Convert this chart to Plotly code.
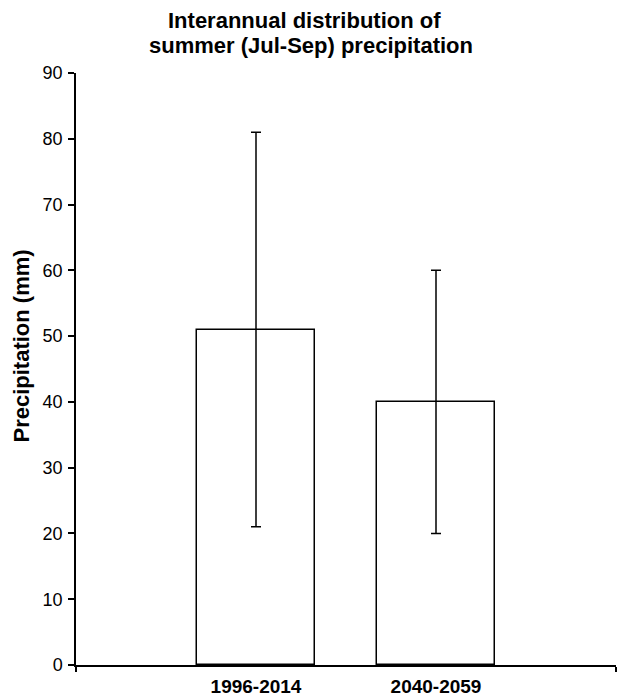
import plotly.graph_objects as go

categories = ["1996-2014", "2040-2059"]
mean_precip = [51, 40]
error_precip = [30, 20]
y_ticks = [0, 10, 20, 30, 40, 50, 60, 70, 80, 90]
title_lines = ["Interannual distribution of", "summer (Jul-Sep) precipitation"]
y_title = "Precipitation (mm)"

x_pos = list(range(len(categories)))

fig = go.Figure()
fig.add_trace(go.Bar(
    x=x_pos,
    y=mean_precip,
    width=0.655,
    marker=dict(color="white", line=dict(color="black", width=1.5)),
    error_y=dict(type="data", array=error_precip, visible=True,
                 color="black", thickness=1.5, width=5),
    showlegend=False,
))

fig.update_layout(
    width=617, height=696,
    margin=dict(l=76, r=1, t=73, b=31, autoexpand=False),
    paper_bgcolor="white", plot_bgcolor="white",
    font=dict(family="Liberation Sans, Arial, sans-serif", color="black"),
    bargap=0,
)

for line, xpos, ypos in zip(title_lines, [0.424, 0.436], [1.088, 1.047]):
    fig.add_annotation(
        text="<b>%s</b>" % line, xref="paper", yref="paper",
        x=xpos, y=ypos, xanchor="center", yanchor="middle",
        showarrow=False, font=dict(size=22, color="black"),
    )

fig.add_annotation(
    text="<b>%s</b>" % y_title, xref="paper", yref="paper",
    x=-0.1, y=0.538, xanchor="center", yanchor="middle", textangle=-90,
    showarrow=False, font=dict(size=22, color="black"),
)

fig.update_xaxes(
    range=[-1, 2],
    tickvals=x_pos,
    ticktext=["<b>%s</b>" % c for c in categories],
    tickfont=dict(size=19),
    ticks="",
    ticklabelstandoff=3,
    automargin=False,
    showline=True, linecolor="black", linewidth=1.5,
    showgrid=False, zeroline=False,
    minor=dict(tickvals=[-1, 2], ticks="outside", ticklen=5,
               tickcolor="black", tickwidth=1.5, showgrid=False),
)

fig.update_yaxes(
    range=[0, 90],
    tickvals=y_ticks,
    tickfont=dict(size=18),
    ticks="outside", ticklen=6, tickwidth=1.5, tickcolor="black",
    ticklabelstandoff=2,
    automargin=False,
    showline=True, linecolor="black", linewidth=1.5,
    showgrid=False, zeroline=False,
)

fig.write_html(
    "out.html",
    config={"displayModeBar": False},
    post_script="document.body.style.margin='0';document.body.style.overflow='hidden';",
)
